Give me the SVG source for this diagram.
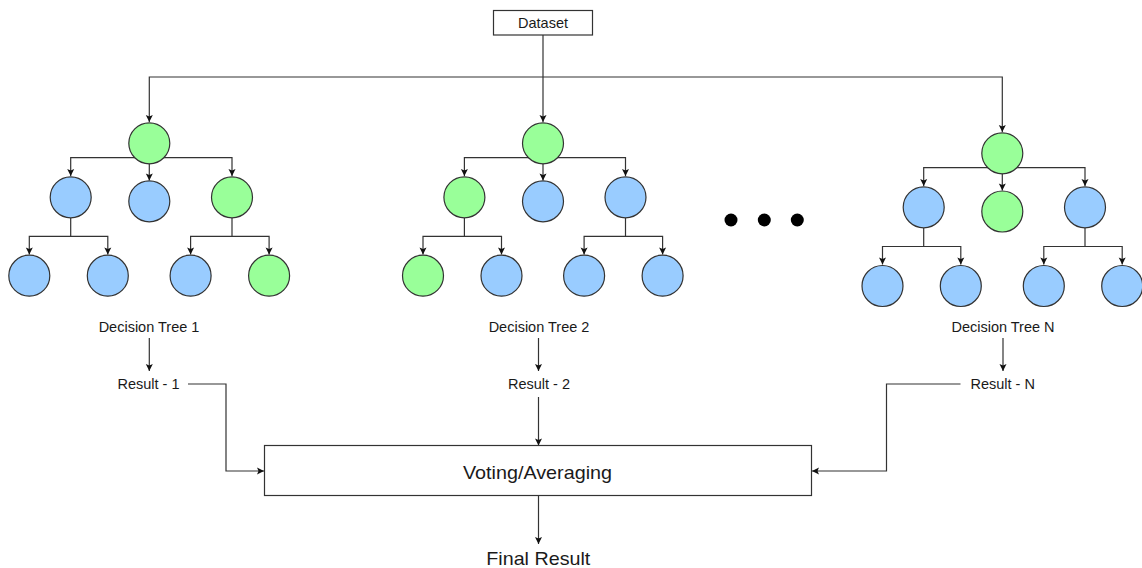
<svg xmlns="http://www.w3.org/2000/svg" width="1142" height="568" viewBox="0 0 1142 568">
  <style>
    .edge { fill: none; stroke: #333; stroke-width: 1.2; }
    .arr { marker-end: url(#arrow); }
    .node-g { fill: #99FF99; stroke: #333; stroke-width: 1.2; }
    .node-b { fill: #99CCFF; stroke: #333; stroke-width: 1.2; }
    .box { fill: #fff; stroke: #333; stroke-width: 1.2; }
    .lbl { font-family: "Liberation Sans", Arial, sans-serif; font-size: 14.5px; fill: #1a1a1a; text-anchor: middle; }
    .big { font-family: "Liberation Sans", Arial, sans-serif; font-size: 19px; fill: #1a1a1a; text-anchor: middle; }
    .dot { fill: #000; }
  </style>
  <defs>
    <marker id="arrow" markerUnits="userSpaceOnUse" markerWidth="10" markerHeight="10" viewBox="-1 -5 10 10" refX="7" refY="0" orient="auto">
      <path d="M0,-3.5 L7,0 L0,3.5 L1.5,0 Z" fill="#111"/>
    </marker>
  </defs>

  <rect width="1142" height="568" fill="#fff"/>

  <!-- connectors -->
  <g id="connectors">
    <!-- dataset to tree roots -->
    <path class="edge arr" d="M543,35 V122"/>
    <path class="edge arr" d="M543,77 H149.3 V122"/>
    <path class="edge arr" d="M543,77 H1002.3 V132"/>

    <!-- tree 1 -->
    <path class="edge arr" d="M149.3,157.7 H70.7 V176"/>
    <path class="edge arr" d="M149.3,163 V180.5"/>
    <path class="edge arr" d="M149.3,157.7 H232 V176"/>
    <path class="edge arr" d="M70.7,218 V236.3 H29.3 V254.5"/>
    <path class="edge arr" d="M70.7,236.3 H107.8 V254.5"/>
    <path class="edge arr" d="M232,218 V236.3 H190.6 V254.5"/>
    <path class="edge arr" d="M232,236.3 H269.1 V254.5"/>

    <!-- tree 2 -->
    <path class="edge arr" d="M543,157.7 H464.4 V176"/>
    <path class="edge arr" d="M543,163 V180.5"/>
    <path class="edge arr" d="M543,157.7 H625.5 V176"/>
    <path class="edge arr" d="M464.4,218 V236.3 H423 V254.5"/>
    <path class="edge arr" d="M464.4,236.3 H501.5 V254.5"/>
    <path class="edge arr" d="M625.5,218 V236.3 H584.1 V254.5"/>
    <path class="edge arr" d="M625.5,236.3 H662.6 V254.5"/>

    <!-- tree N -->
    <path class="edge arr" d="M1002.3,167.7 H923.7 V186"/>
    <path class="edge arr" d="M1002.3,173 V190.5"/>
    <path class="edge arr" d="M1002.3,167.7 H1085 V186"/>
    <path class="edge arr" d="M923.7,228 V246.5 H882.5 V264.5"/>
    <path class="edge arr" d="M923.7,246.5 H960.8 V264.5"/>
    <path class="edge arr" d="M1085,228 V246.5 H1043.8 V264.5"/>
    <path class="edge arr" d="M1085,246.5 H1122.2 V264.5"/>

    <!-- labels to results -->
    <path class="edge arr" d="M149.3,338 V371"/>
    <path class="edge arr" d="M538.5,338 V371"/>
    <path class="edge arr" d="M1003,338 V371"/>

    <!-- results to voting -->
    <path class="edge arr" d="M188,384 H226 V471 H264"/>
    <path class="edge arr" d="M538.5,397 V445.5"/>
    <path class="edge arr" d="M960.5,384 H886.5 V471 H812"/>

    <!-- voting to final -->
    <path class="edge arr" d="M538.5,495.5 V544"/>
  </g>

  <!-- dataset -->
  <g id="dataset">
    <rect class="box" x="493.5" y="10.5" width="99" height="24.5"/>
    <text class="lbl" x="543" y="28">Dataset</text>
  </g>

  <!-- decision tree 1 -->
  <g id="tree1">
    <g id="t1-root"><circle class="node-g" cx="149.3" cy="143.3" r="20.5"/></g>
    <g id="t1-a"><circle class="node-b" cx="70.7" cy="197.3" r="20.5"/></g>
    <g id="t1-b"><circle class="node-b" cx="149.3" cy="201.3" r="20.5"/></g>
    <g id="t1-c"><circle class="node-g" cx="232" cy="197.3" r="20.5"/></g>
    <g id="t1-a1"><circle class="node-b" cx="29.3" cy="275.7" r="20.5"/></g>
    <g id="t1-a2"><circle class="node-b" cx="107.8" cy="275.7" r="20.5"/></g>
    <g id="t1-c1"><circle class="node-b" cx="190.6" cy="275.7" r="20.5"/></g>
    <g id="t1-c2"><circle class="node-g" cx="269.1" cy="275.7" r="20.5"/></g>
  </g>

  <!-- decision tree 2 -->
  <g id="tree2">
    <g id="t2-root"><circle class="node-g" cx="543" cy="143.3" r="20.5"/></g>
    <g id="t2-a"><circle class="node-g" cx="464.4" cy="197.3" r="20.5"/></g>
    <g id="t2-b"><circle class="node-b" cx="543" cy="201.3" r="20.5"/></g>
    <g id="t2-c"><circle class="node-b" cx="625.5" cy="197.3" r="20.5"/></g>
    <g id="t2-a1"><circle class="node-g" cx="423" cy="275.7" r="20.5"/></g>
    <g id="t2-a2"><circle class="node-b" cx="501.5" cy="275.7" r="20.5"/></g>
    <g id="t2-c1"><circle class="node-b" cx="584.1" cy="275.7" r="20.5"/></g>
    <g id="t2-c2"><circle class="node-b" cx="662.6" cy="275.7" r="20.5"/></g>
  </g>

  <!-- ellipsis between trees -->
  <g id="ellipsis">
    <circle class="dot" cx="731" cy="220" r="6.5"/>
    <circle class="dot" cx="764.3" cy="220" r="6.5"/>
    <circle class="dot" cx="797.3" cy="220" r="6.5"/>
  </g>

  <!-- decision tree N -->
  <g id="treeN">
    <g id="tN-root"><circle class="node-g" cx="1002.3" cy="153.3" r="20.5"/></g>
    <g id="tN-a"><circle class="node-b" cx="923.7" cy="207.3" r="20.5"/></g>
    <g id="tN-b"><circle class="node-g" cx="1002.3" cy="211.5" r="20.5"/></g>
    <g id="tN-c"><circle class="node-b" cx="1085" cy="207.3" r="20.5"/></g>
    <g id="tN-a1"><circle class="node-b" cx="882.5" cy="286" r="20.5"/></g>
    <g id="tN-a2"><circle class="node-b" cx="960.8" cy="286" r="20.5"/></g>
    <g id="tN-c1"><circle class="node-b" cx="1043.8" cy="286" r="20.5"/></g>
    <g id="tN-c2"><circle class="node-b" cx="1122.2" cy="286" r="20.5"/></g>
  </g>

  <!-- labels and results -->
  <g id="label1"><text class="lbl" x="149" y="331.5">Decision Tree 1</text></g>
  <g id="label2"><text class="lbl" x="539" y="331.5">Decision Tree 2</text></g>
  <g id="labelN"><text class="lbl" x="1003" y="331.5">Decision Tree N</text></g>
  <g id="result1"><text class="lbl" x="148.5" y="389">Result - 1</text></g>
  <g id="result2"><text class="lbl" x="539" y="389">Result - 2</text></g>
  <g id="resultN"><text class="lbl" x="1002.7" y="389">Result - N</text></g>

  <!-- aggregation -->
  <g id="voting">
    <rect class="box" x="264.5" y="445.5" width="547" height="50"/>
    <text class="big" x="537.5" y="478.5" textLength="149" lengthAdjust="spacingAndGlyphs">Voting/Averaging</text>
  </g>
  <g id="final">
    <text class="big" x="538.3" y="565" textLength="104" lengthAdjust="spacingAndGlyphs">Final Result</text>
  </g>
</svg>
